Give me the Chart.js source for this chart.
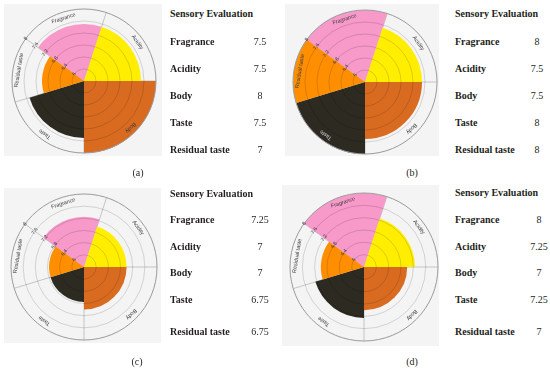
<!DOCTYPE html>
<html>
<head>
<meta charset="utf-8">
<script src="https://cdn.jsdelivr.net/npm/chart.js@4/dist/chart.umd.min.js"></script>
<style>
    html, body { margin: 0; padding: 0; background: #fff; }
    #figure { position: relative; width: 550px; height: 371px; overflow: hidden; }
    .panel-bg { position: absolute; background: #f4f4f4; }
    .panel-bg canvas { position: absolute; }
    .txt {
        position: absolute;
        font-family: "Liberation Serif", "Times New Roman", serif;
        font-size: 10px;
        line-height: 12px;
        white-space: nowrap;
        color: #231f20;
    }
    .txt.bold { font-weight: bold; }
    .txt.val { width: 30px; text-align: center; }
</style>
</head>
<body>
<div id="figure"></div>

<script>
// Dados das quatro amostras
const attributes = ['Fragrance', 'Acidity', 'Body', 'Taste', 'Residual taste'];
const scoresA = [7.5, 7.5, 8, 7.5, 7];
const scoresB = [8, 7.5, 7.5, 8, 8];
const scoresC = [7.25, 7, 7, 6.75, 6.75];
const scoresD = [8, 7.25, 7, 7.25, 7];
const tickValues = [5.6, 6, 6.4, 6.8, 7.2, 7.6, 8];
const tableTitle = 'Sensory Evaluation';
const captions = ['(a)', '(b)', '(c)', '(d)'];

// Cores e fatias (larguras angulares desiguais como no original)
const sliceColors = ['#f799c9', '#ffee00', '#d96b20', '#2d2a22', '#ff8f00'];
const sliceAngles = [72, 72, 90, 73, 53];
const labelValue = 7.8; // meio da faixa externa

// Posições de cada painel
const panels = [
    { scores: scoresA, cx: 84, cy: 80, r: 75, box: [4, 4, 158, 152], textX: 170, valX: 260,
      rowsY: [13.5, 41.5, 68.5, 95.5, 122.5, 149.5], cap: [138, 173] },
    { scores: scoresB, cx: 365, cy: 81, r: 75, box: [285, 4, 154, 152], textX: 455, valX: 537,
      rowsY: [13.5, 41.5, 68.5, 95.5, 122.5, 149.5], cap: [412, 173] },
    { scores: scoresC, cx: 84, cy: 266, r: 76, box: [4, 188, 157, 155], textX: 170, valX: 260,
      rowsY: [193.7, 219.5, 246.7, 273.3, 299.5, 331.7], cap: [137, 362] },
    { scores: scoresD, cx: 364, cy: 266, r: 77, box: [282, 185, 157, 161], textX: 455, valX: 539,
      rowsY: [193.3, 220, 246.7, 273.3, 300, 331.7], cap: [412, 362] }
];

// Linhas radiais nas bordas de cada fatia (por baixo das fatias)
const sliceLines = {
    id: 'sliceLines',
    beforeDatasetsDraw(chart) {
        const scale = chart.scales.r;
        const meta = chart.getDatasetMeta(0);
        const ctx = chart.ctx;
        const outer = scale.getDistanceFromCenterForValue(tickValues[tickValues.length - 1]);
        ctx.save();
        ctx.strokeStyle = '#c4c4c4';
        ctx.lineWidth = 1;
        meta.data.forEach(arc => {
            ctx.beginPath();
            ctx.moveTo(scale.xCenter, scale.yCenter);
            ctx.lineTo(scale.xCenter + outer * Math.cos(arc.startAngle), scale.yCenter + outer * Math.sin(arc.startAngle));
            ctx.stroke();
        });
        ctx.restore();
    }
};

// Nomes dos atributos girados na faixa externa
const sliceLabels = {
    id: 'sliceLabels',
    afterDraw(chart) {
        const scale = chart.scales.r;
        const meta = chart.getDatasetMeta(0);
        const values = chart.data.datasets[0].data;
        const ctx = chart.ctx;
        const rad = scale.getDistanceFromCenterForValue(labelValue);
        ctx.save();
        ctx.font = '5.5px "Liberation Sans", Arial, sans-serif';
        ctx.textAlign = 'center';
        ctx.textBaseline = 'middle';
        meta.data.forEach((arc, i) => {
            const mid = (arc.startAngle + arc.endAngle) / 2;
            // texto claro quando fica sobre a fatia escura
            const onDark = values[i] >= labelValue && i === 3;
            ctx.save();
            ctx.translate(scale.xCenter + rad * Math.cos(mid), scale.yCenter + rad * Math.sin(mid));
            ctx.rotate(mid + Math.PI / 2);
            ctx.fillStyle = onDark ? '#d8d8d8' : '#3a3a3a';
            ctx.fillText(chart.data.labels[i], 0, 0);
            ctx.restore();
        });
        ctx.restore();
    }
};

function renderChart(panel, container) {
    const canvas = document.createElement('canvas');
    const w = panel.r * 2;
    const h = panel.r * 2 + 3;
    canvas.width = w;
    canvas.height = h;
    canvas.style.width = w + 'px';
    canvas.style.height = h + 'px';
    canvas.style.left = (panel.cx - panel.r - panel.box[0]) + 'px';
    canvas.style.top = (panel.cy - panel.r - panel.box[1]) + 'px';
    container.appendChild(canvas);

    const lastTick = tickValues.length - 1;

    new Chart(canvas.getContext('2d'), {
        type: 'polarArea',
        data: {
            labels: attributes,
            datasets: [{
                data: panel.scores,
                backgroundColor: sliceColors,
                borderWidth: 0,
                angle: sliceAngles
            }]
        },
        options: {
            responsive: false,
            animation: false,
            layout: { padding: 0 },
            plugins: {
                legend: { display: false },
                tooltip: { enabled: false }
            },
            scales: {
                r: {
                    min: tickValues[0],
                    max: tickValues[lastTick],
                    startAngle: -54,
                    afterBuildTicks: scale => {
                        scale.ticks = tickValues.map(v => ({ value: v }));
                    },
                    angleLines: { display: false },
                    pointLabels: { display: false },
                    grid: {
                        z: 1,
                        circular: true,
                        lineWidth: 1,
                        color: c => c.index === lastTick ? '#9a9a9a' : 'rgba(0,0,0,0.14)'
                    },
                    ticks: {
                        z: 1,
                        showLabelBackdrop: false,
                        backdropPadding: 0,
                        color: '#333',
                        font: { size: 5, family: '"Liberation Sans", Arial, sans-serif' },
                        callback: v => String(v)
                    }
                }
            }
        },
        plugins: [sliceLines, sliceLabels]
    });
}

function addText(text, x, yCenter, cls) {
    const el = document.createElement('div');
    el.className = 'txt ' + cls;
    el.textContent = text;
    el.style.left = x + 'px';
    el.style.top = (yCenter - 6) + 'px';
    document.getElementById('figure').appendChild(el);
    return el;
}

function renderTable(panel, caption) {
    addText(tableTitle, panel.textX, panel.rowsY[0], 'bold');
    attributes.forEach((name, i) => {
        addText(name, panel.textX, panel.rowsY[i + 1], 'bold');
        addText(String(panel.scores[i]), panel.valX - 15, panel.rowsY[i + 1], 'val');
    });
    addText(caption, panel.cap[0] - 15, panel.cap[1], 'val');
}

document.addEventListener('DOMContentLoaded', () => {
    const figure = document.getElementById('figure');
    panels.forEach((panel, i) => {
        const bg = document.createElement('div');
        bg.className = 'panel-bg';
        bg.style.left = panel.box[0] + 'px';
        bg.style.top = panel.box[1] + 'px';
        bg.style.width = panel.box[2] + 'px';
        bg.style.height = panel.box[3] + 'px';
        figure.appendChild(bg);

        renderChart(panel, bg);
        renderTable(panel, captions[i]);
    });
});
</script>
</body>
</html>
